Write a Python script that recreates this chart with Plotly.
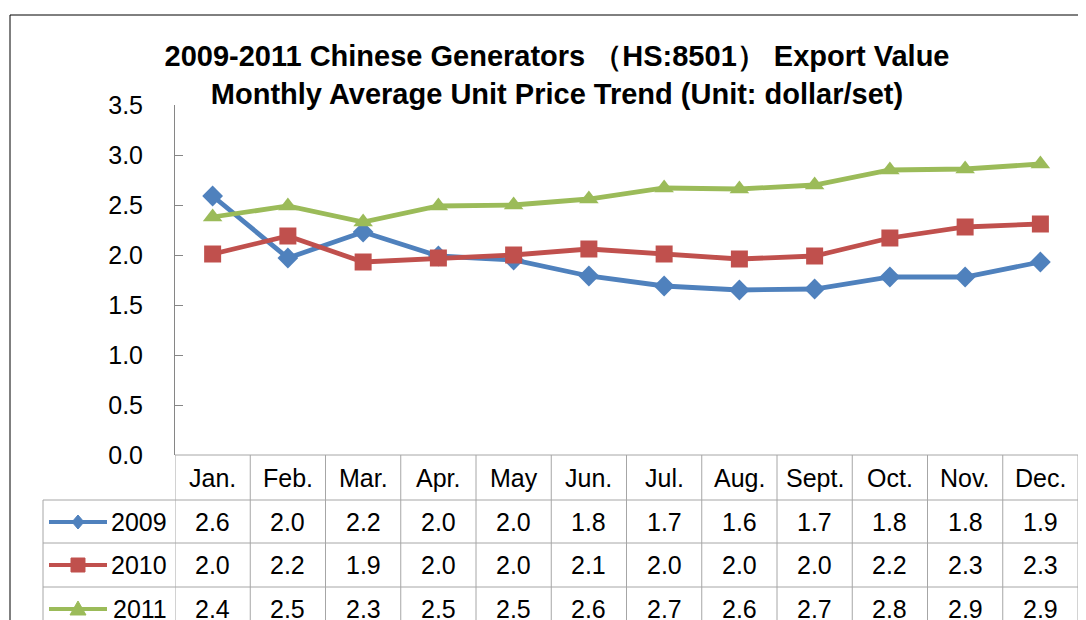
import plotly.graph_objects as go

months = ["Jan.", "Feb.", "Mar.", "Apr.", "May", "Jun.", "Jul.", "Aug.", "Sept.", "Oct.", "Nov.", "Dec."]
years = ["2009", "2010", "2011"]

# plotted values
price_2009 = [2.59, 1.97, 2.23, 1.99, 1.95, 1.79, 1.69, 1.65, 1.66, 1.78, 1.78, 1.93]
price_2010 = [2.01, 2.19, 1.93, 1.97, 2.00, 2.06, 2.01, 1.96, 1.99, 2.17, 2.28, 2.31]
price_2011 = [2.38, 2.49, 2.33, 2.49, 2.50, 2.56, 2.67, 2.66, 2.70, 2.85, 2.86, 2.91]

# values as printed in the data table
table_2009 = ["2.6", "2.0", "2.2", "2.0", "2.0", "1.8", "1.7", "1.6", "1.7", "1.8", "1.8", "1.9"]
table_2010 = ["2.0", "2.2", "1.9", "2.0", "2.0", "2.1", "2.0", "2.0", "2.0", "2.2", "2.3", "2.3"]
table_2011 = ["2.4", "2.5", "2.3", "2.5", "2.5", "2.6", "2.7", "2.6", "2.7", "2.8", "2.9", "2.9"]

y_ticks = [0.0, 0.5, 1.0, 1.5, 2.0, 2.5, 3.0, 3.5]

colors = ["#4F81BD", "#C0504D", "#9BBB59"]
symbols = ["diamond", "square", "triangle-up"]
sizes = [16, 17, 17]

# page body has an 8px margin, so work in page pixels and shift by OFF
OFF = 8
W, H = 1086, 620
L, R, T = 175 - OFF, 16, 105 - OFF
B = H - (455 - OFF)
pw, ph = W - L - R, H - T - B
FONT = "Liberation Sans, Arial, sans-serif"
GRID = "#A6A6A6"


def px(x):
    return (x - OFF - L) / pw


def py(y):
    return (455 - y) / ph


fig = go.Figure()
idx = list(range(len(months)))
for name, vals, c, s, sz in zip(years, [price_2009, price_2010, price_2011], colors, symbols, sizes):
    fig.add_trace(go.Scatter(
        x=idx, y=vals, mode="lines+markers", name=name,
        line=dict(color=c, width=4.8),
        marker=dict(symbol=s, size=sz, color=c),
        cliponaxis=False, showlegend=False,
    ))

shapes = []
ann = []

# outer chart border
shapes.append(dict(type="rect", xref="paper", yref="paper",
                   x0=px(10), x1=px(1110), y0=py(15), y1=py(660),
                   line=dict(color="black", width=1)))

row_lines = [455, 500, 543, 587]
row_centres = [478, 522, 565, 609]

shapes.append(dict(type="line", xref="paper", yref="paper", x0=0, x1=1, y0=py(455), y1=py(455),
                   line=dict(color=GRID, width=1)))
for yl in row_lines[1:]:
    shapes.append(dict(type="line", xref="paper", yref="paper", x0=px(43), x1=1, y0=py(yl), y1=py(yl),
                       line=dict(color=GRID, width=1)))

for i in range(len(months) + 1):
    shapes.append(dict(type="line", xref="x", yref="paper", x0=i - 0.5, x1=i - 0.5,
                       y0=py(455), y1=py(660), line=dict(color=GRID, width=1)))
shapes.append(dict(type="line", xref="paper", yref="paper", x0=px(43), x1=px(43),
                   y0=py(500), y1=py(660), line=dict(color=GRID, width=1)))

for i, m in enumerate(months):
    ann.append(dict(x=i, y=py(row_centres[0]), xref="x", yref="paper", text=m, showarrow=False,
                    xanchor="center", yanchor="middle",
                    font=dict(size=25, color="black", family=FONT)))

for r, (yr, vals, c, s) in enumerate(zip(years, [table_2009, table_2010, table_2011], colors, symbols)):
    yc = py(row_centres[r + 1])
    for i, v in enumerate(vals):
        ann.append(dict(x=i, y=yc, xref="x", yref="paper", text=v, showarrow=False,
                        xanchor="center", yanchor="middle",
                        font=dict(size=25, color="black", family=FONT)))
    ann.append(dict(x=px(169), y=yc, xref="paper", yref="paper", text=yr, showarrow=False,
                    xanchor="right", yanchor="middle",
                    font=dict(size=25, color="black", family=FONT)))
    shapes.append(dict(type="line", xref="paper", yref="paper", x0=px(49), x1=px(107), y0=yc, y1=yc,
                       line=dict(color=c, width=4)))
    cx, cy = 78, row_centres[r + 1]
    if s == "diamond":
        pts = [(cx, cy - 7), (cx + 6, cy), (cx, cy + 7), (cx - 6, cy)]
    elif s == "square":
        pts = [(cx - 7, cy - 7), (cx + 7, cy - 7), (cx + 7, cy + 7), (cx - 7, cy + 7)]
    else:
        pts = [(cx, cy - 8), (cx + 8, cy + 6), (cx - 8, cy + 6)]
    path = "M " + " L ".join(f"{px(a):.5f},{py(b):.5f}" for a, b in pts) + " Z"
    shapes.append(dict(type="path", xref="paper", yref="paper", path=path,
                       fillcolor=c, line=dict(color=c, width=1)))

fig.update_layout(
    width=W, height=H,
    margin=dict(l=L, r=R, t=T, b=B),
    paper_bgcolor="white", plot_bgcolor="white",
    title=dict(
        text="2009-2011 Chinese Generators （HS:8501） Export Value<br>Monthly Average Unit Price Trend (Unit: dollar/set)",
        x=(557 - OFF) / W, xanchor="center", y=1 - (66 - OFF) / H, yanchor="middle",
        font=dict(size=29, color="black", family=FONT, weight="bold"),
    ),
    xaxis=dict(range=[-0.5, len(months) - 0.5], showticklabels=False, showgrid=False,
               zeroline=False, showline=False, fixedrange=True),
    yaxis=dict(range=[0, 3.5], tickvals=y_ticks, ticktext=[f"{v:.1f}" for v in y_ticks],
               showgrid=False, zeroline=False, showline=True, linecolor="#868686", linewidth=1,
               ticks="inside", ticklen=8, tickcolor="#868686", ticklabelstandoff=26,
               tickfont=dict(size=25, color="black", family=FONT)),
    shapes=shapes, annotations=ann,
    hovermode=False,
)

fig.write_html("out.html")
